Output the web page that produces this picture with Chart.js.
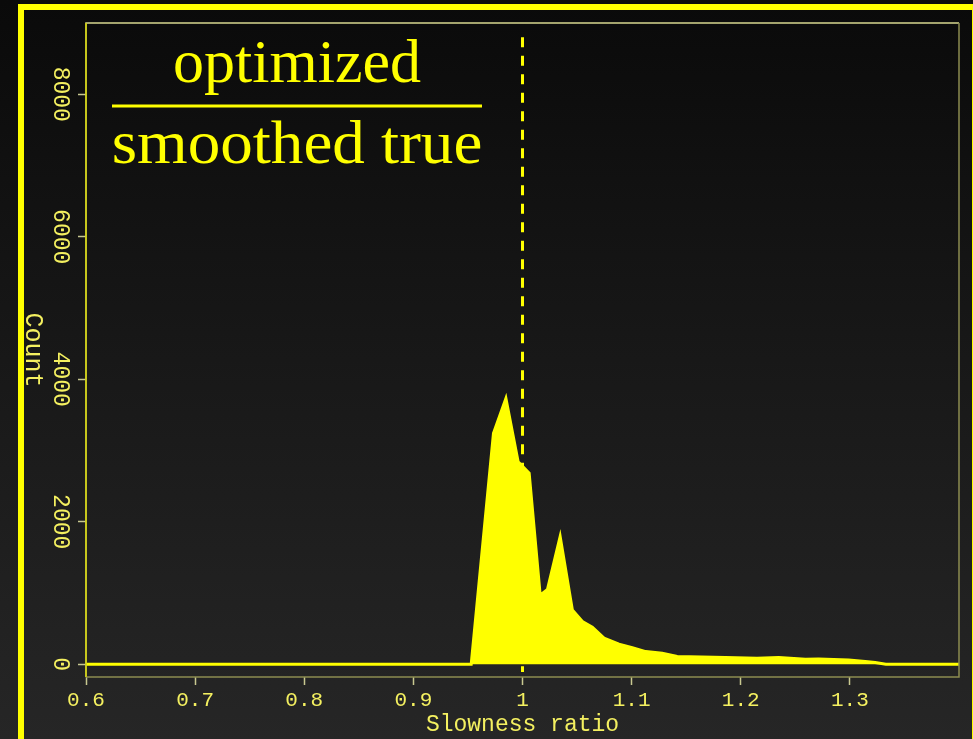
<!DOCTYPE html>
<html>
<head>
<meta charset="utf-8">
<script src="https://cdn.jsdelivr.net/npm/chart.js@4.4.1/dist/chart.umd.min.js"></script>
<style>
  html, body { margin: 0; padding: 0; width: 973px; height: 739px; overflow: hidden; }
  body { background: linear-gradient(to bottom, #0a0a0a 0%, #171717 45%, #262626 100%); position: relative; }
  #frame { position: absolute; left: 18px; top: 4px; width: 960px; height: 800px; box-sizing: border-box; border: 6px solid #ffff00; }
  #chart { position: absolute; left: 0; top: 0; }
</style>
</head>
<body>
<div id="frame"></div>
<canvas id="chart" width="973" height="739"></canvas>
<script>
// slowness ratio histogram (optimized / smoothed true)
const ratioX = [0.6, 0.953, 0.9537, 0.9734, 0.9848, 0.996, 1.0061, 1.0162, 1.0229, 1.0345, 1.0457, 1.0549, 1.064, 1.0747,
    1.0884, 1.1006, 1.1129, 1.128, 1.1418, 1.186, 1.2149, 1.2348, 1.2592, 1.2714, 1.2988, 1.3141, 1.3232, 1.333, 1.4];
const counts = [0, 0, 0, 3240, 3730, 2840, 2680, 970, 1050, 1790, 760, 600, 520, 365,
    280, 233, 177, 154, 107, 93, 84, 93, 70, 74, 60, 36, 22, 0, 0];

// vertical reference line at ratio = 1
const refX = [1, 1];
const refY = [8800, -110];

const xTicks = [0.6, 0.7, 0.8, 0.9, 1.0, 1.1, 1.2, 1.3];
const yTicks = [0, 2000, 4000, 6000, 8000];

const yellow = '#ffff00';
const labelColor = '#f4f060';

// box, rotated y labels and the fraction text
const decorations = {
    id: 'decorations',
    afterDraw(chart) {
        const ctx = chart.ctx;
        const a = chart.chartArea;
        const y = chart.scales.y;
        ctx.save();

        // plot box
        ctx.lineWidth = 1.5;
        ctx.strokeStyle = '#d8d890';
        ctx.beginPath();
        ctx.moveTo(a.left, a.bottom);
        ctx.lineTo(a.left, a.top);
        ctx.lineTo(a.right, a.top);
        ctx.stroke();
        ctx.strokeStyle = '#8c8c50';
        ctx.beginPath();
        ctx.moveTo(a.right, a.top);
        ctx.lineTo(a.right, a.bottom);
        ctx.lineTo(a.left, a.bottom);
        ctx.stroke();
        ctx.strokeStyle = '#d0d000';
        ctx.beginPath();
        ctx.moveTo(a.left, a.top);
        ctx.lineTo(a.left, a.bottom);
        ctx.stroke();

        // y tick labels, rotated clockwise
        ctx.fillStyle = labelColor;
        ctx.font = '23px "Liberation Mono"';
        ctx.textAlign = 'center';
        ctx.textBaseline = 'middle';
        y.ticks.forEach(t => {
            const py = y.getPixelForValue(t.value);
            ctx.save();
            ctx.translate(a.left - 26, py);
            ctx.rotate(Math.PI / 2);
            ctx.fillText(String(t.value), 0, 0);
            ctx.restore();
        });

        // y axis title
        ctx.save();
        ctx.font = '25px "Liberation Mono"';
        ctx.translate(33, (a.top + a.bottom) / 2);
        ctx.rotate(Math.PI / 2);
        ctx.fillText('Count', 0, 0);
        ctx.restore();

        // optimized / smoothed true
        const cx = a.left + 211;
        ctx.fillStyle = yellow;
        ctx.font = '62px "Liberation Serif"';
        ctx.textBaseline = 'alphabetic';
        ctx.fillText('optimized', cx, a.top + 59);
        ctx.save();
        ctx.translate(cx, a.top + 140);
        ctx.scale(1.05, 1);
        ctx.fillText('smoothed true', 0, 0);
        ctx.restore();
        ctx.fillRect(a.left + 26, a.top + 81.5, 370, 3);

        ctx.restore();
    }
};

new Chart(document.getElementById('chart'), {
    type: 'line',
    data: {
        datasets: [
            {
                data: ratioX.map((v, i) => ({ x: v, y: counts[i] })),
                borderColor: yellow,
                backgroundColor: yellow,
                borderWidth: 3,
                fill: 'origin',
                pointRadius: 0,
                tension: 0
            },
            {
                data: refX.map((v, i) => ({ x: v, y: refY[i] })),
                borderColor: yellow,
                borderWidth: 3,
                borderDash: [10, 8.5],
                fill: false,
                pointRadius: 0
            }
        ]
    },
    options: {
        responsive: false,
        animation: false,
        devicePixelRatio: 1,
        layout: { padding: { top: 23, right: 14, left: 0, bottom: 0 } },
        plugins: { legend: { display: false }, tooltip: { enabled: false } },
        scales: {
            x: {
                type: 'linear',
                min: 0.6,
                max: 1.4,
                afterBuildTicks: s => { s.ticks = xTicks.map(v => ({ value: v })); },
                afterFit: s => { s.height = 62; },
                border: { display: false },
                grid: { drawOnChartArea: false, drawTicks: true, tickLength: 8, tickColor: '#c8c890', tickWidth: 1.5 },
                ticks: {
                    color: labelColor,
                    font: { family: 'Liberation Mono', size: 21 },
                    padding: 3,
                    maxRotation: 0,
                    callback: v => String(Math.round(v * 10) / 10)
                },
                title: {
                    display: true,
                    text: 'Slowness ratio',
                    color: labelColor,
                    font: { family: 'Liberation Mono', size: 23 },
                    padding: { top: 0, bottom: 0 }
                }
            },
            y: {
                min: -180,
                max: 9000,
                afterBuildTicks: s => { s.ticks = yTicks.map(v => ({ value: v })); },
                afterFit: s => { s.width = 86; },
                border: { display: false },
                grid: { drawOnChartArea: false, drawTicks: true, tickLength: 8, tickColor: '#c8c890', tickWidth: 1.5 },
                ticks: { display: false }
            }
        }
    },
    plugins: [decorations]
});
</script>
</body>
</html>
